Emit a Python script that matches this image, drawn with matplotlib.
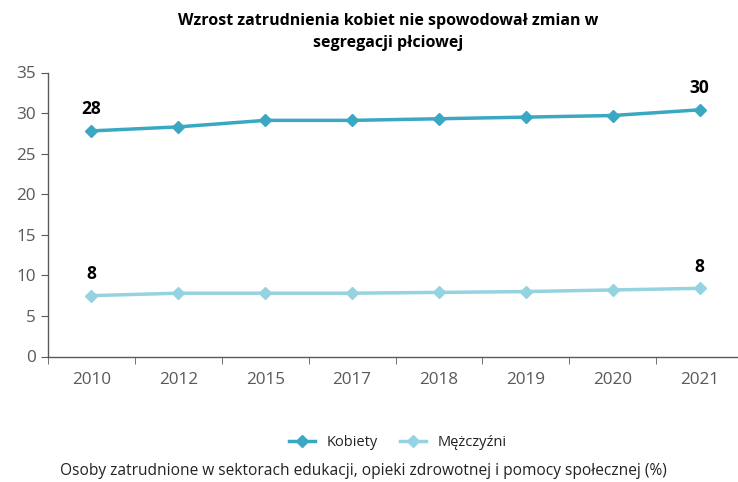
import matplotlib.pyplot as plt
import numpy as np

plt.rcParams['font.family'] = ['Open Sans', 'DejaVu Sans']

years = ['2010', '2012', '2015', '2017', '2018', '2019', '2020', '2021']
kobiety = [27.8, 28.3, 29.1, 29.1, 29.3, 29.5, 29.7, 30.4]
mezczyzni = [7.5, 7.8, 7.8, 7.8, 7.9, 8.0, 8.2, 8.4]

c_k = '#3aa8c3'
c_m = '#95d3e1'
grey = '#595959'

fig = plt.figure(figsize=(7.38, 4.82), dpi=100)
ax = fig.add_axes([48/738, 1 - 356.5/482, 695/738, 284/482])

x = np.arange(len(years))
ax.plot(x, kobiety, color=c_k, lw=2.5, marker='D', ms=6.5, label='Kobiety')
ax.plot(x, mezczyzni, color=c_m, lw=2.5, marker='D', ms=6.5, label='Mężczyźni')

# etykiety tylko na pierwszym i ostatnim punkcie
for i in [0, len(years) - 1]:
    ax.annotate(f'{kobiety[i]:.0f}', (x[i], kobiety[i]), xytext=(0, 9), textcoords='offset points',
                ha='center', va='bottom', fontsize=12.5, fontweight='bold', color='black')
    ax.annotate(f'{mezczyzni[i]:.0f}', (x[i], mezczyzni[i]), xytext=(0, 9), textcoords='offset points',
                ha='center', va='bottom', fontsize=12.5, fontweight='bold', color='black')

ax.set_xlim(-0.5, len(years) - 0.5)
ax.set_ylim(0, 35)
ax.set_yticks(range(0, 36, 5))
ax.set_xticks(x)
ax.set_xticklabels(years)
ax.set_xticks(np.arange(-0.5, len(years), 1), minor=True)
ax.tick_params(axis='x', which='major', length=0, pad=11, labelsize=12.3, labelcolor=grey)
ax.tick_params(axis='x', which='minor', length=5, color=grey, direction='out')
ax.tick_params(axis='y', length=5, color=grey, labelsize=12.3, labelcolor=grey, pad=4)

for s in ['top', 'right']:
    ax.spines[s].set_visible(False)
for s in ['left', 'bottom']:
    ax.spines[s].set_color(grey)
    ax.spines[s].set_linewidth(1)

fig.text(388/738, 1 - 32/482, 'Wzrost zatrudnienia kobiet nie spowodował zmian w\nsegregacji płciowej',
         ha='center', va='center', fontsize=11.5, fontweight='bold', linespacing=1.55)

fig.legend(loc='center', bbox_to_anchor=(398/738, 1 - 443/482), ncol=2, frameon=False,
           fontsize=10.5, handlelength=1.8, handletextpad=0.8, columnspacing=1.5, labelcolor='#222222')

fig.text(363/738, 1 - 471/482, 'Osoby zatrudnione w sektorach edukacji, opieki zdrowotnej i pomocy społecznej (%)',
         ha='center', va='center', fontsize=11.2, color='#222222')

fig.savefig('out.png', dpi=100)
